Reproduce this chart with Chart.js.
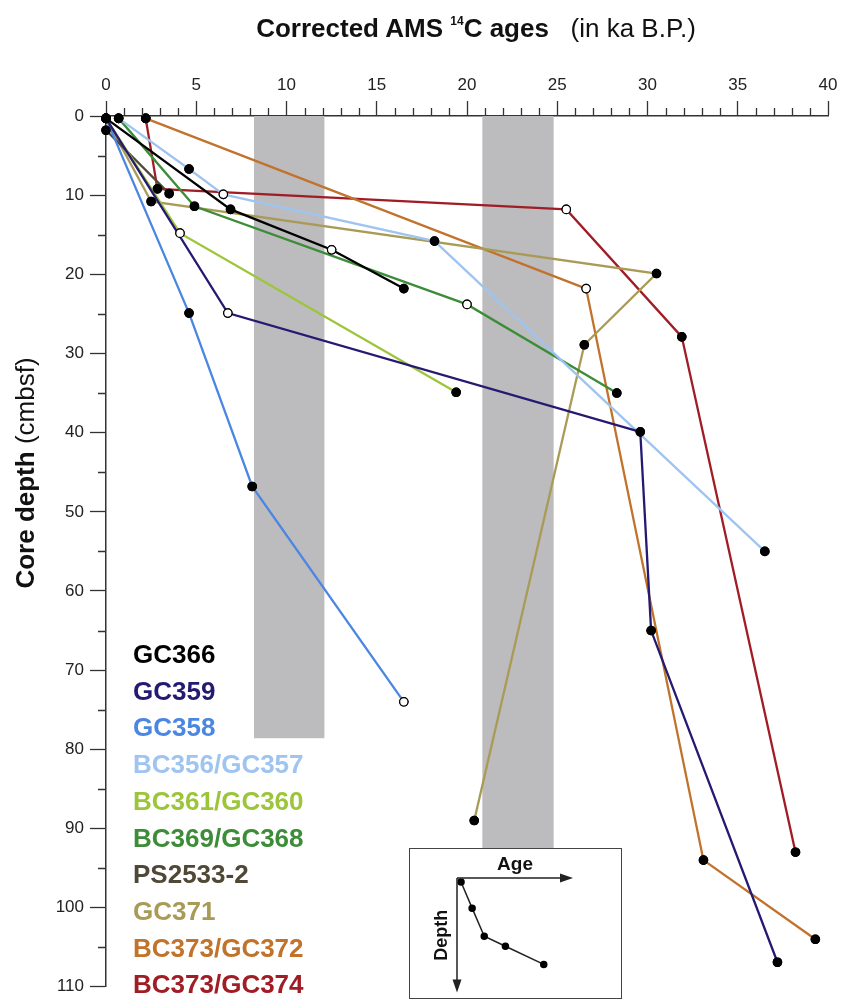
<!DOCTYPE html>
<html>
<head>
<meta charset="utf-8">
<script src="https://cdn.jsdelivr.net/npm/chart.js@4.4.0/dist/chart.umd.min.js"></script>
<style>
  body { margin: 0; background: #fff; }
  #wrap { position: relative; width: 848px; height: 1003px; overflow: hidden; font-family: "Liberation Sans", Arial, sans-serif; }
  #chart { position: absolute; left: 0; top: 0; }
  .title { position: absolute; left: 126px; width: 700px; top: 6px; line-height: 30px; text-align: center; font-size: 26px; color: #111; white-space: nowrap; }
  .title b sup { font-size: 12px; vertical-align: 12px; }
  .ytitle { position: absolute; left: -125px; top: 458px; width: 300px; height: 30px; line-height: 30px; text-align: center; transform: rotate(-90deg); font-size: 26px; color: #111; white-space: nowrap; }
  #legend { position: absolute; left: 133px; top: 636px; font-size: 26px; font-weight: bold; line-height: 36.7px; }
  #inset { position: absolute; left: 409px; top: 848px; width: 211px; height: 149px; border: 1.6px solid #444; background: #fff; }
</style>
</head>
<body>
<div id="wrap">
  <canvas id="chart" width="848" height="1003"></canvas>
  <div class="title"><b>Corrected AMS <sup>14</sup>C ages</b>&nbsp;&nbsp; (in ka B.P.)</div>
  <div class="ytitle"><b>Core depth</b> (cmbsf)</div>
  <div id="legend"></div>
  <div id="inset"><canvas id="insetChart" width="211" height="149"></canvas></div>
</div>

<script>
// core names, legend order
const series = ['GC366', 'GC359', 'GC358', 'BC356/GC357', 'BC361/GC360', 'BC369/GC368', 'PS2533-2', 'GC371', 'BC373/GC372', 'BC373/GC374'];
const colors = ['#000000', '#241a72', '#4a86e2', '#9fc4f0', '#9cc53a', '#3c8c38', '#4f4836', '#a99b56', '#c1722b', '#a11d26'];

// age (ka B.P.) and depth (cmbsf) per core; "open" = indices of open-circle dates
const gc366Age = [0.0, 6.9, 12.5, 16.5];
const gc366Depth = [0.3, 11.8, 16.9, 21.8];
const gc366Open = [2];

const gc359Age = [0.0, 6.75, 29.6, 30.2, 37.2];
const gc359Depth = [0.3, 24.9, 39.9, 65.0, 106.9];
const gc359Open = [1];

const gc358Age = [0.0, 4.6, 8.1, 16.5];
const gc358Depth = [0.3, 24.9, 46.8, 74.0];
const gc358Open = [3];

const bc356Age = [0.7, 4.6, 6.5, 18.2, 36.5];
const bc356Depth = [0.3, 6.7, 9.9, 15.8, 55.0];
const bc356Open = [2];

const bc361Age = [0.0, 4.1, 19.4];
const bc361Depth = [0.3, 14.8, 34.9];
const bc361Open = [1];

const bc369Age = [0.7, 4.9, 20.0, 28.3];
const bc369Depth = [0.3, 11.4, 23.8, 35.0];
const bc369Open = [2];

const ps2533Age = [0.0, 3.5];
const ps2533Depth = [1.8, 9.8];
const ps2533Open = [];

const gc371Age = [0.0, 2.5, 30.5, 26.5, 20.4];
const gc371Depth = [0.3, 10.8, 19.9, 28.9, 89.0];
const gc371Open = [];

const gc372Age = [2.2, 26.6, 33.1, 39.3];
const gc372Depth = [0.3, 21.8, 94.0, 104.0];
const gc372Open = [1];

const gc374Age = [2.2, 2.85, 25.5, 31.9, 38.2];
const gc374Depth = [0.3, 9.2, 11.8, 27.9, 93.0];
const gc374Open = [2];

// grey age windows (ka) and how deep they reach (cmbsf)
const bandFrom = [8.2, 20.85];
const bandTo = [12.1, 24.8];
const bandDepth = [78.6, 110];

// inset sketch (arbitrary units)
const insetAge = [4, 15, 27, 48, 86];
const insetDepth = [4, 30, 58, 68, 86];

const ages = [gc366Age, gc359Age, gc358Age, bc356Age, bc361Age, bc369Age, ps2533Age, gc371Age, gc372Age, gc374Age];
const depths = [gc366Depth, gc359Depth, gc358Depth, bc356Depth, bc361Depth, bc369Depth, ps2533Depth, gc371Depth, gc372Depth, gc374Depth];
const opens = [gc366Open, gc359Open, gc358Open, bc356Open, bc361Open, bc369Open, ps2533Open, gc371Open, gc372Open, gc374Open];

document.getElementById('legend').innerHTML = series
  .map((s, i) => '<div style="color:' + colors[i] + '">' + s + '</div>').join('');

const datasets = series.map((name, i) => ({
  label: name,
  data: ages[i].map((a, j) => ({ x: a, y: depths[i][j] })),
  showLine: true,
  borderColor: colors[i],
  borderWidth: 2.3,
  tension: 0,
  clip: false,
  pointRadius: 4.2,
  pointBorderWidth: 1.2,
  pointBorderColor: '#000',
  pointBackgroundColor: ages[i].map((a, j) => opens[i].includes(j) ? '#fff' : '#000')
}));

const axisColor = '#333';

const depthPlot = {
  id: 'depthPlot',
  beforeDatasetsDraw(chart) {
    const { ctx, scales: { x, y } } = chart;
    ctx.save();
    ctx.fillStyle = '#bcbcbe';
    bandFrom.forEach((b, i) => {
      const x0 = x.getPixelForValue(b), x1 = x.getPixelForValue(bandTo[i]);
      const y0 = y.getPixelForValue(0), y1 = y.getPixelForValue(bandDepth[i]);
      ctx.fillRect(x0, y0, x1 - x0, y1 - y0);
    });
    ctx.restore();
  },
  afterDatasetsDraw(chart) {
    // dots on top of every line
    chart.data.datasets.forEach((d, i) => {
      chart.getDatasetMeta(i).data.forEach(p => p.draw(chart.ctx, chart.chartArea));
    });
  },
  afterDraw(chart) {
    const { ctx, scales: { x, y } } = chart;
    ctx.save();
    ctx.strokeStyle = axisColor;
    ctx.lineWidth = 1.3;
    ctx.beginPath();
    for (let v = 1; v < 40; v++) {
      if (v % 5 === 0) continue;
      const px = Math.round(x.getPixelForValue(v)) + 0.5;
      ctx.moveTo(px, x.bottom);
      ctx.lineTo(px, x.bottom - 8);
    }
    for (let v = 5; v < 110; v += 10) {
      const py = Math.round(y.getPixelForValue(v)) + 0.5;
      ctx.moveTo(y.right, py);
      ctx.lineTo(y.right - 8, py);
    }
    ctx.stroke();
    ctx.restore();
  }
};

new Chart(document.getElementById('chart'), {
  type: 'scatter',
  data: { datasets },
  options: {
    responsive: false,
    animation: false,
    layout: { padding: { top: 0, right: 20, bottom: 8, left: 0 } },
    plugins: { legend: { display: false }, tooltip: { enabled: false } },
    scales: {
      x: {
        type: 'linear', position: 'top', min: 0, max: 40,
        afterFit: s => { s.height = 116; },
        ticks: { stepSize: 5, color: '#222', font: { size: 17, family: 'Liberation Sans' }, padding: 5, maxRotation: 0 },
        grid: { drawOnChartArea: false, drawTicks: true, tickLength: 15, tickColor: axisColor, tickWidth: 1.3 },
        border: { color: axisColor, width: 1.5 }
      },
      y: {
        type: 'linear', reverse: true, min: 0, max: 110,
        afterFit: s => { s.width = 106; },
        ticks: { stepSize: 10, color: '#222', font: { size: 17, family: 'Liberation Sans' }, padding: 6 },
        grid: { drawOnChartArea: false, drawTicks: true, tickLength: 16, tickColor: axisColor, tickWidth: 1.3 },
        border: { color: axisColor, width: 1.5 }
      }
    }
  },
  plugins: [depthPlot]
});

// inset: how to read the plot
const insetArrows = {
  id: 'insetArrows',
  afterDraw(chart) {
    const { ctx, chartArea: a } = chart;
    ctx.save();
    ctx.strokeStyle = '#222';
    ctx.fillStyle = '#222';
    ctx.lineWidth = 1.5;
    ctx.beginPath();
    ctx.moveTo(a.left, a.top); ctx.lineTo(a.right - 8, a.top);
    ctx.moveTo(a.left, a.top); ctx.lineTo(a.left, a.bottom - 8);
    ctx.stroke();
    ctx.beginPath();
    ctx.moveTo(a.right, a.top); ctx.lineTo(a.right - 13, a.top - 4.5); ctx.lineTo(a.right - 13, a.top + 4.5); ctx.closePath();
    ctx.moveTo(a.left, a.bottom); ctx.lineTo(a.left - 4.5, a.bottom - 13); ctx.lineTo(a.left + 4.5, a.bottom - 13); ctx.closePath();
    ctx.fill();
    ctx.restore();
  }
};

new Chart(document.getElementById('insetChart'), {
  type: 'scatter',
  data: {
    datasets: [{
      data: insetAge.map((a, j) => ({ x: a, y: insetDepth[j] })),
      showLine: true, borderColor: '#222', borderWidth: 1.5, tension: 0, clip: false,
      pointRadius: 3, pointBackgroundColor: '#000', pointBorderColor: '#000'
    }]
  },
  options: {
    responsive: false,
    animation: false,
    layout: { padding: { top: 0, right: 48, bottom: 5, left: 0 } },
    plugins: { legend: { display: false }, tooltip: { enabled: false } },
    scales: {
      x: {
        type: 'linear', position: 'top', min: 0, max: 115,
        afterFit: s => { s.height = 29; },
        ticks: { display: false }, grid: { display: false }, border: { display: false },
        title: { display: true, text: 'Age', color: '#111', font: { size: 19, weight: 'bold', family: 'Liberation Sans' }, padding: { top: 4, bottom: 0 } }
      },
      y: {
        type: 'linear', reverse: true, min: 0, max: 114,
        afterFit: s => { s.width = 47; },
        ticks: { display: false }, grid: { display: false }, border: { display: false },
        title: { display: true, text: 'Depth', color: '#111', font: { size: 18, weight: 'bold', family: 'Liberation Sans' }, padding: { top: 21, bottom: 0 } }
      }
    }
  },
  plugins: [insetArrows]
});
</script>
</body>
</html>
